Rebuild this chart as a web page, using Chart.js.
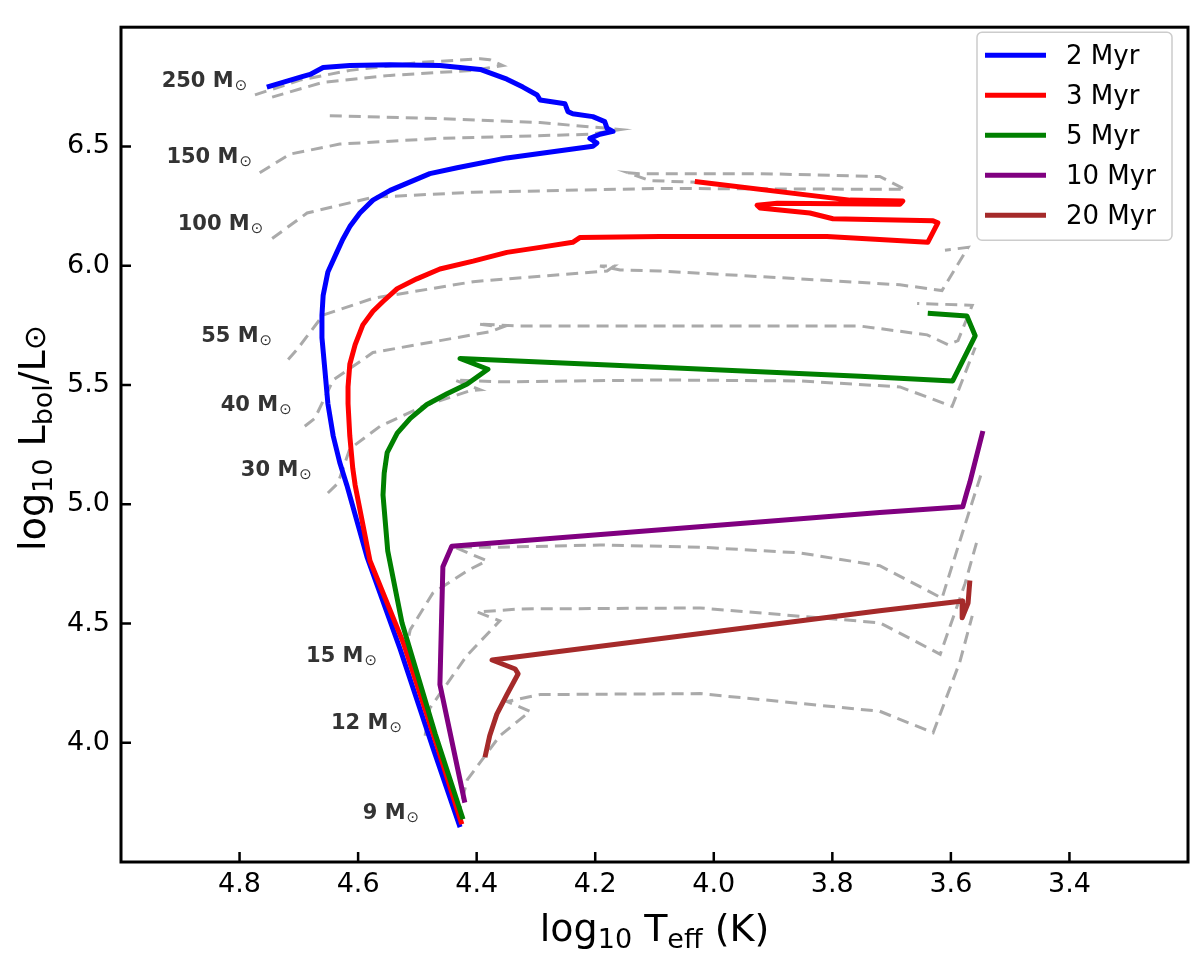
<!DOCTYPE html>
<html>
<head>
<meta charset="utf-8">
<script src="https://cdn.jsdelivr.net/npm/chart.js@4.4.1/dist/chart.umd.min.js"></script>
<style>
  html, body { margin: 0; padding: 0; background: #fff; }
  canvas { display: block; }
</style>
</head>
<body>
<canvas id="hrd" width="1200" height="965"></canvas>
<script>
// isochrones: [log Teff, log L], from the low-mass end upward
const iso2Myr = [[4.428,3.646],[4.474,3.980],[4.529,4.392],[4.585,4.779],[4.619,5.080],[4.631,5.175],[4.642,5.286],
  [4.651,5.422],[4.656,5.562],[4.661,5.698],[4.661,5.793],[4.659,5.875],[4.651,5.974],[4.636,6.056],[4.626,6.110],
  [4.614,6.164],[4.597,6.221],[4.575,6.275],[4.546,6.316],[4.518,6.345],[4.479,6.386],[4.433,6.411],[4.349,6.452],
  [4.238,6.489],[4.204,6.501],[4.197,6.514],[4.209,6.534],[4.192,6.551],[4.170,6.563],[4.180,6.576],[4.184,6.604],
  [4.204,6.625],[4.238,6.637],[4.246,6.646],[4.251,6.679],[4.293,6.695],[4.298,6.716],[4.322,6.749],[4.349,6.782],
  [4.394,6.823],[4.462,6.839],[4.546,6.843],[4.614,6.839],[4.659,6.831],[4.681,6.802],[4.693,6.794],[4.754,6.749]];
const iso3Myr = [[4.425,3.658],[4.467,3.988],[4.524,4.421],[4.580,4.763],[4.605,5.080],[4.609,5.150],[4.614,5.286],
  [4.617,5.422],[4.617,5.492],[4.614,5.587],[4.605,5.669],[4.592,5.752],[4.575,5.809],[4.558,5.850],[4.534,5.904],
  [4.501,5.945],[4.462,5.986],[4.406,6.019],[4.349,6.056],[4.293,6.077],[4.238,6.098],[4.226,6.118],[4.091,6.122],
  [3.809,6.122],[3.639,6.098],[3.622,6.180],[3.630,6.188],[3.799,6.197],[3.838,6.221],[3.922,6.242],[3.927,6.254],
  [3.893,6.262],[3.686,6.258],[3.681,6.271],[3.770,6.275],[4.032,6.353]];
const iso5Myr = [[4.423,3.679],[4.470,4.038],[4.526,4.503],[4.550,4.804],[4.558,5.039],[4.556,5.130],[4.551,5.216],
  [4.534,5.298],[4.512,5.360],[4.484,5.418],[4.450,5.463],[4.416,5.504],[4.381,5.566],[4.428,5.611],[4.091,5.574],
  [3.753,5.537],[3.597,5.517],[3.559,5.706],[3.573,5.789],[3.639,5.801]];
const iso10Myr = [[4.420,3.749],[4.462,4.244],[4.457,4.738],[4.442,4.824],[3.720,4.965],[3.580,4.989],[3.573,5.051],
  [3.568,5.092],[3.546,5.307]];
const iso20Myr = [[4.386,3.939],[4.378,4.029],[4.366,4.120],[4.349,4.202],[4.330,4.289],[4.335,4.309],[4.374,4.347],
  [3.720,4.553],[3.580,4.594],[3.581,4.524],[3.571,4.586],[3.568,4.680]];

const ages = ['2 Myr', '3 Myr', '5 Myr', '10 Myr', '20 Myr'];
const ageColors = ['#0000ff', '#ff0000', '#008000', '#800080', '#a52a2a'];
const isochrones = [iso2Myr, iso3Myr, iso5Myr, iso10Myr, iso20Myr];

// evolutionary tracks (dashed grey)
const track250 = [[4.774,6.716],[4.698,6.778],[4.614,6.819],[4.496,6.852],[4.394,6.868],[4.378,6.864],[4.356,6.839],
  [4.406,6.819],[4.546,6.798],[4.659,6.769],[4.745,6.707]];
const track150 = [[4.766,6.390],[4.715,6.468],[4.631,6.510],[4.462,6.534],[4.209,6.551],[4.158,6.571],[4.180,6.576],
  [4.293,6.600],[4.462,6.617],[4.651,6.629]];
const track100 = [[4.745,6.114],[4.686,6.221],[4.575,6.287],[4.406,6.308],[4.091,6.324],[3.677,6.320],[3.720,6.374],
  [3.922,6.386],[4.125,6.386],[4.145,6.390],[4.108,6.357],[4.023,6.349]];
const track55 = [[4.718,5.607],[4.703,5.649],[4.659,5.793],[4.575,5.863],[4.406,5.933],[4.180,5.978],[4.168,5.999],
  [4.192,5.999],[4.158,5.982],[4.091,5.978],[3.855,5.945],[3.686,5.920],[3.615,5.896],[3.571,6.077],[3.610,6.065]];
const track40 = [[4.690,5.327],[4.673,5.360],[4.642,5.521],[4.575,5.636],[4.462,5.686],[4.378,5.723],[4.356,5.743],
  [4.398,5.756],[4.327,5.747],[4.091,5.747],[3.753,5.747],[3.640,5.710],[3.605,5.669],[3.588,5.686],[3.564,5.834],
  [3.657,5.842]];
const track30 = [[4.651,5.047],[4.634,5.088],[4.614,5.232],[4.563,5.327],[4.491,5.410],[4.411,5.476],[4.394,5.480],
  [4.437,5.521],[4.361,5.513],[4.091,5.521],[3.855,5.517],[3.686,5.492],[3.598,5.410],[3.559,5.657]];
const track15 = [[4.521,4.371],[4.512,4.474],[4.474,4.627],[4.416,4.721],[4.383,4.763],[4.437,4.820],[4.361,4.820],
  [4.192,4.829],[4.023,4.820],[3.855,4.796],[3.720,4.742],[3.615,4.606],[3.585,4.845],[3.548,5.134]];
const track12 = [[4.487,4.029],[4.479,4.145],[4.416,4.367],[4.361,4.511],[4.399,4.548],[4.327,4.561],[4.023,4.565],
  [3.720,4.503],[3.618,4.371],[3.576,4.668],[3.556,4.845]];
const track9 = [[4.432,3.687],[4.416,3.844],[4.361,4.029],[4.310,4.132],[4.349,4.173],[4.293,4.202],[4.023,4.206],
  [3.720,4.132],[3.630,4.042],[3.585,4.338],[3.564,4.532]];
const tracks = [track250, track150, track100, track55, track40, track30, track15, track12, track9];

// mass labels and where they sit (right edge, log Teff / log L)
const massNames = ['250', '150', '100', '55', '40', '30', '15', '12', '9'];
const massLabelT = [4.787, 4.779, 4.760, 4.745, 4.712, 4.678, 4.568, 4.526, 4.497];
const massLabelL = [6.782, 6.460, 6.180, 5.710, 5.422, 5.150, 4.371, 4.091, 3.712];

const xTicks = [4.8, 4.6, 4.4, 4.2, 4.0, 3.8, 3.6, 3.4];
const yTicks = [4.0, 4.5, 5.0, 5.5, 6.0, 6.5];

const toXY = arr => arr.map(p => ({ x: p[0], y: p[1] }));

const datasets = [];
isochrones.forEach((iso, i) => {
    datasets.push({
        label: ages[i],
        data: toXY(iso),
        borderColor: ageColors[i],
        borderWidth: 5,
        borderJoinStyle: 'round',
        showLine: true,
        pointRadius: 0,
        tension: 0,
        order: 5 - i
    });
});
tracks.forEach(tr => {
    datasets.push({
        label: '',
        data: toXY(tr),
        borderColor: '#aaaaaa',
        borderWidth: 3,
        borderDash: [12, 7],
        showLine: true,
        pointRadius: 0,
        tension: 0,
        order: 10
    });
});

const FONT = '"DejaVu Sans", sans-serif';

// draw a line of text where some parts are subscripts
function drawMixed(ctx, parts, cx, baseY, size) {
    const sub = Math.round(size * 0.7);
    let total = 0;
    parts.forEach(p => {
        ctx.font = (p.size || (p.sub ? sub : size)) + 'px ' + FONT;
        p.w = ctx.measureText(p.t).width;
        total += p.w;
    });
    let x = cx - total / 2;
    ctx.textAlign = 'left';
    ctx.textBaseline = 'alphabetic';
    parts.forEach(p => {
        ctx.font = (p.size || (p.sub ? sub : size)) + 'px ' + FONT;
        ctx.fillText(p.t, x, baseY + (p.sub ? size * 0.18 : 0));
        x += p.w;
    });
}

const decorations = {
    id: 'decorations',
    afterDatasetsDraw(chart) {
        const { ctx, scales: { x, y } } = chart;
        ctx.save();
        ctx.fillStyle = '#333333';
        ctx.textBaseline = 'alphabetic';
        massNames.forEach((m, i) => {
            const px = x.getPixelForValue(massLabelT[i]);
            const py = y.getPixelForValue(massLabelL[i]) + 7.5;
            ctx.font = '15px ' + FONT;
            const ws = ctx.measureText('\u2299').width;
            ctx.textAlign = 'left';
            ctx.fillText('\u2299', px - ws, py + 3);
            ctx.font = 'bold 21px ' + FONT;
            ctx.textAlign = 'right';
            ctx.fillText(m + ' M', px - ws - 1, py);
        });
        ctx.restore();
    },
    afterDraw(chart) {
        const { ctx, chartArea: a, scales: { x, y } } = chart;
        ctx.save();

        // frame
        ctx.strokeStyle = '#000';
        ctx.lineWidth = 3;
        ctx.strokeRect(a.left, a.top, a.right - a.left, a.bottom - a.top);

        // inward ticks
        ctx.lineWidth = 2.5;
        ctx.beginPath();
        xTicks.forEach(v => {
            const px = x.getPixelForValue(v);
            ctx.moveTo(px, a.bottom);
            ctx.lineTo(px, a.bottom - 10);
        });
        yTicks.forEach(v => {
            const py = y.getPixelForValue(v);
            ctx.moveTo(a.left, py);
            ctx.lineTo(a.left + 10, py);
        });
        ctx.stroke();

        // axis titles
        ctx.fillStyle = '#000';
        drawMixed(ctx, [
            { t: 'log' }, { t: '10', sub: true }, { t: ' T' }, { t: 'eff', sub: true }, { t: ' (K)' }
        ], (a.left + a.right) / 2, 941, 38);
        ctx.save();
        ctx.translate(45, 438);
        ctx.rotate(-Math.PI / 2);
        drawMixed(ctx, [
            { t: 'log' }, { t: '10', sub: true }, { t: ' L' }, { t: 'bol', sub: true }, { t: '/L' }, { t: '\u2299', size: 30 }
        ], 0, 0, 38);
        ctx.restore();

        // legend
        const bx = a.right - 211, by = a.top + 5, bw = 195, bh = 208;
        ctx.beginPath();
        ctx.roundRect(bx, by, bw, bh, 5);
        ctx.fillStyle = 'rgba(255,255,255,0.85)';
        ctx.fill();
        ctx.strokeStyle = '#cccccc';
        ctx.lineWidth = 1.5;
        ctx.stroke();
        ctx.font = '26px ' + FONT;
        ctx.textAlign = 'left';
        ctx.textBaseline = 'middle';
        ages.forEach((lab, i) => {
            const ly = by + 23 + 40 * i;
            ctx.strokeStyle = ageColors[i];
            ctx.lineWidth = 5;
            ctx.beginPath();
            ctx.moveTo(bx + 8, ly);
            ctx.lineTo(bx + 69, ly);
            ctx.stroke();
            ctx.fillStyle = '#000';
            ctx.fillText(lab, bx + 89, ly + 2);
        });
        ctx.restore();
    }
};

new Chart(document.getElementById('hrd'), {
    type: 'scatter',
    data: { datasets },
    options: {
        responsive: false,
        animation: false,
        layout: { padding: { top: 14, right: 12, left: 0, bottom: 0 } },
        plugins: {
            legend: { display: false },
            tooltip: { enabled: false }
        },
        scales: {
            x: {
                type: 'linear',
                reverse: true,
                min: 3.2,
                max: 5.0,
                afterBuildTicks: s => { s.ticks = xTicks.map(v => ({ value: v })); },
                afterFit: s => { s.height = 103; },
                grid: { display: false, drawTicks: false },
                border: { display: false },
                ticks: {
                    padding: 7,
                    color: '#000',
                    font: { family: 'DejaVu Sans', size: 27 },
                    maxRotation: 0,
                    callback: v => Number(v).toFixed(1)
                }
            },
            y: {
                type: 'linear',
                min: 3.5,
                max: 7.0,
                afterBuildTicks: s => { s.ticks = yTicks.map(v => ({ value: v })); },
                afterFit: s => { s.width = 121; },
                grid: { display: false, drawTicks: false },
                border: { display: false },
                ticks: {
                    padding: 11,
                    color: '#000',
                    font: { family: 'DejaVu Sans', size: 27 },
                    callback: v => Number(v).toFixed(1)
                }
            }
        }
    },
    plugins: [decorations]
});
</script>
</body>
</html>
